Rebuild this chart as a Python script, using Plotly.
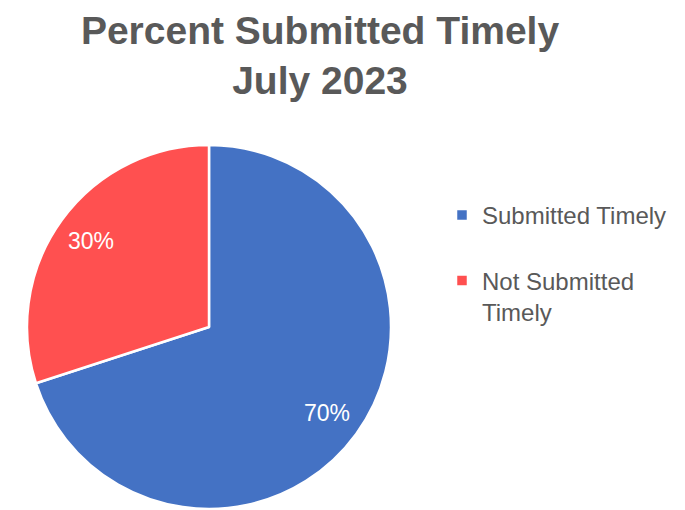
import math
import plotly.graph_objects as go

labels = ["Submitted Timely<br> ", "Not Submitted<br>Timely"]
values = [70, 30]
colors = ["#4472C4", "#FF5050"]

W, H = 685, 510
OFF = 8  # page body margin offset
FONT = "Liberation Sans, Arial"

# pie geometry in figure pixels
cx, cy, R = 209 - OFF, 327 - OFF, 182

fig = go.Figure(go.Pie(
    labels=labels, values=values, sort=False, direction="clockwise", rotation=0,
    marker=dict(colors=colors, line=dict(color="white", width=2.5)),
    textinfo="none", hoverinfo="label+percent",
    domain=dict(x=[(cx - R) / W, (cx + R) / W], y=[1 - (cy + R) / H, 1 - (cy - R) / H]),
))

# percentage labels placed at slice mid-angles computed from the values
total = sum(values)
cum = 0
for v in values:
    mid = (cum + v / 2) / total * 2 * math.pi
    cum += v
    r = 0.8 * R
    px = cx + r * math.sin(mid)
    py = cy - r * math.cos(mid)
    fig.add_annotation(x=px / W, y=1 - py / H, xref="paper", yref="paper",
                       xanchor="center", yanchor="middle",
                       text=f"{round(100 * v / total)}%", showarrow=False,
                       font=dict(family=FONT, size=23, color="white"))

fig.update_layout(
    width=W, height=H, margin=dict(l=0, r=0, t=0, b=0),
    paper_bgcolor="white",
    title=dict(text="<b>Percent Submitted Timely<br>July 2023</b>", x=(320 - OFF) / W, xanchor="center",
               y=0.930, yanchor="top",
               font=dict(family=FONT, size=39, color="#595959")),
    legend=dict(x=(442 - OFF) / W, y=1 - (193 - OFF) / H, xanchor="left", yanchor="top",
                valign="top",
                font=dict(family=FONT, size=24, color="#595959")),
)
fig.write_html("out.html")
